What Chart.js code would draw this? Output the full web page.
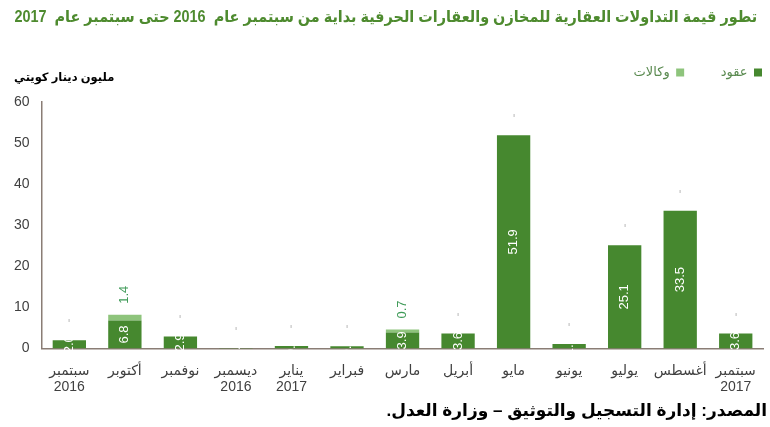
<!DOCTYPE html>
<html lang="ar">
<head>
<meta charset="utf-8">
<script src="https://cdn.jsdelivr.net/npm/chart.js@4.4.1/dist/chart.umd.min.js"></script>
<style>
  html, body { margin: 0; padding: 0; background: #ffffff; }
  #wrap { position: relative; width: 770px; height: 427px; overflow: hidden; font-family: "Liberation Sans", "DejaVu Sans", sans-serif; }
  #c { position: absolute; left: 0; top: 0; }
  .txt { position: absolute; white-space: nowrap; direction: rtl; }
  #title { right: 13px; top: 7px; font-size: 16px; font-weight: bold; color: #4e8b2f; transform: scaleX(0.9); transform-origin: right center; }
  #unit { left: 14px; top: 70px; font-size: 11.5px; font-weight: bold; color: #000; }
  #source { right: 3px; top: 400px; font-size: 17px; font-weight: bold; color: #000; }
</style>
</head>
<body>
<div id="wrap">
  <canvas id="c" width="770" height="427"></canvas>
  <div class="txt" id="title">تطور قيمة التداولات العقارية للمخازن والعقارات الحرفية بداية من سبتمبر عام&nbsp; 2016 حتى سبتمبر عام&nbsp; 2017</div>
  <div class="txt" id="unit">مليون دينار كويتي</div>
  <div class="txt" id="source">المصدر: إدارة التسجيل والتوثيق – وزارة العدل.</div>
</div>
<script>
const categories = [
  ['سبتمبر', '2016'], 'أكتوبر', 'نوفمبر', ['ديسمبر', '2016'], ['يناير', '2017'],
  'فبراير', 'مارس', 'أبريل', 'مايو', 'يونيو', 'يوليو', 'أغسطس', ['سبتمبر', '2017']
];
const contracts = [2.0, 6.8, 2.9, 0.1, 0.6, 0.5, 3.9, 3.6, 51.9, 1.1, 25.1, 33.5, 3.6];
const agencies  = [0, 1.4, 0, 0, 0, 0, 0.7, 0, 0, 0, 0, 0, 0];
const seriesNames = ['عقود', 'وكالات'];
const yTicks = [0, 10, 20, 30, 40, 50, 60];

const FONT = '"Liberation Sans", "DejaVu Sans", sans-serif';
const DARK = '#46882f';
const LIGHT = '#8ec47c';

const legendFix = {
  id: 'legendFix',
  beforeInit(chart) {
    const origFit = chart.legend.fit;
    chart.legend.fit = function () {
      origFit.bind(chart.legend)();
      this.height = 40;
    };
  }
};

const labelPlugin = {
  id: 'barLabels',
  afterDatasetsDraw(chart) {
    const ctx = chart.ctx;
    const m0 = chart.getDatasetMeta(0);
    const m1 = chart.getDatasetMeta(1);
    ctx.save();
    m0.data.forEach((bar, i) => {
      const v = contracts[i];
      const cy = (bar.y + bar.base) / 2;
      ctx.save();
      ctx.translate(bar.x, cy);
      ctx.rotate(-Math.PI / 2);
      ctx.font = '13px ' + FONT;
      ctx.fillStyle = '#ffffff';
      ctx.textAlign = 'center';
      ctx.textBaseline = 'middle';
      ctx.fillText(v.toFixed(1), 0, 0);
      ctx.restore();
      const top = m1.data[i].y;
      if (agencies[i] > 0) {
        const txt = agencies[i].toFixed(1);
        ctx.font = '13px ' + FONT;
        const w = ctx.measureText(txt).width;
        ctx.save();
        ctx.translate(bar.x, top - 11 - w / 2);
        ctx.rotate(-Math.PI / 2);
        ctx.fillStyle = '#3e9a57';
        ctx.textAlign = 'center';
        ctx.textBaseline = 'middle';
        ctx.fillText(txt, 0, 0);
        ctx.restore();
      } else {
        ctx.fillStyle = '#c4c4c4';
        ctx.fillRect(Math.round(bar.x) - 0.5, Math.round(top) - 21, 1.2, 3);
      }
    });
    ctx.restore();
  }
};

new Chart(document.getElementById('c'), {
  type: 'bar',
  data: {
    labels: categories,
    datasets: [
      { label: seriesNames[0], data: contracts, backgroundColor: DARK, borderWidth: 0 },
      { label: seriesNames[1], data: agencies, backgroundColor: LIGHT, borderWidth: 0 }
    ]
  },
  options: {
    responsive: false,
    animation: false,
    devicePixelRatio: 1,
    layout: { padding: { top: 62, left: 2, right: 4, bottom: 17 } },
    datasets: { bar: { categoryPercentage: 0.6, barPercentage: 1.0 } },
    plugins: {
      legend: {
        display: true,
        position: 'top',
        align: 'start',
        rtl: true,
        textDirection: 'rtl',
        labels: {
          boxWidth: 8, boxHeight: 8, padding: 4,
          color: '#5a8a50',
          font: { family: FONT, size: 13 },
          generateLabels(chart) {
            const items = Chart.defaults.plugins.legend.labels.generateLabels(chart);
            items.forEach((it, idx) => { if (idx === 0) it.text = it.text + '\u00A0\u00A0\u00A0\u00A0\u00A0\u00A0\u00A0\u00A0\u00A0'; });
            return items;
          }
        }
      },
      tooltip: { enabled: false }
    },
    scales: {
      x: {
        stacked: true,
        z: 1,
        grid: { display: false, drawTicks: false },
        border: { display: true, color: '#8a7d75', width: 1.5 },
        ticks: { color: '#404040', padding: 14, maxRotation: 0, autoSkip: false, font: { family: FONT, size: 14, lineHeight: 1.2 } }
      },
      y: {
        stacked: true,
        z: 1,
        min: 0, max: 60,
        afterBuildTicks(scale) { scale.ticks = yTicks.map(v => ({ value: v })); },
        grid: { display: false, drawTicks: false },
        border: { display: true, color: '#8a7d75', width: 1.5 },
        ticks: { color: '#404040', padding: 12, font: { family: FONT, size: 14 } }
      }
    }
  },
  plugins: [legendFix, labelPlugin]
});
</script>
</body>
</html>
